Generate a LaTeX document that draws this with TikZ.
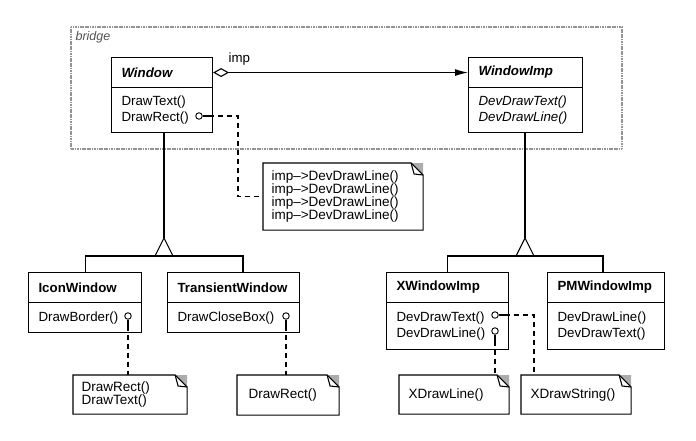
\documentclass[tikz,border=0pt]{standalone}
\usepackage{fontspec}
\setmainfont{Liberation Sans}
\usetikzlibrary{arrows.meta,calc}
\newcommand\notefold[1]{%
  \fill[gray!65] ([xshift=-12pt]#1.north east) -- (#1.north east) -- ([yshift=-12pt]#1.north east) -- cycle;
  \draw (#1.north west) -- ([xshift=-12pt]#1.north east) -- ([yshift=-12pt]#1.north east) -- (#1.south east) -- (#1.south west) -- cycle;
  \draw ([xshift=-12pt]#1.north east) -- ([xshift=-9pt,yshift=-11pt]#1.north east) -- ([yshift=-12pt]#1.north east);
}
\begin{document}
\begin{tikzpicture}[x=1pt,y=-1pt,line width=1.1pt,
  every node/.style={inner sep=0pt},
  basefont/.style={font=\fontsize{13.3}{16.5}\selectfont},
  ctitle/.style={draw,anchor=north west,align=left,inner xsep=10pt,font=\fontsize{13.3}{16.5}\selectfont\bfseries},
  cmeth/.style={basefont,draw,anchor=north west,align=left,inner xsep=10pt},
  notebox/.style={anchor=north west,align=left,inner xsep=8pt,font=\fontsize{13.5}{12.8}\selectfont},
  pin/.style={circle,draw,minimum size=6.5pt,inner sep=0pt,line width=0.9pt},
  dashedline/.style={dash pattern=on 5pt off 4pt,line width=1.1pt},
  frame/.style={draw=gray!85,line width=2.2pt,dash pattern=on 1.2pt off 0.5pt},
]
\useasboundingbox (0,0) rectangle (696,440);

% bridge frame
\draw[frame] (71,27) rectangle (622,149);
\node[anchor=west,font=\fontsize{12.5}{14}\selectfont\itshape,text=gray!65!black] (bridgelbl) at (75,37) {bridge};

% Window
\node[ctitle,text width=81pt,minimum height=30pt] (win) at (111,57) {\itshape Window};
\node[cmeth,text width=81pt,minimum height=45pt] (winm) at (111,87) {DrawText()\\DrawRect()};

% WindowImp
\node[ctitle,text width=94pt,minimum height=30pt] (imp) at (468,57) {\itshape WindowImp};
\node[cmeth,text width=94pt,minimum height=45pt,font=\fontsize{13.3}{16.5}\selectfont\itshape] (impm) at (468,87) {DevDrawText()\\DevDrawLine()};

% association
\draw[{Diamond[open,length=16pt,width=9pt]}-{Latex[length=13pt,width=7pt]}] (win.east) -- (imp.west);
\node[basefont,anchor=south west] (implbl) at (228,66) {imp};

% IconWindow
\node[ctitle,text width=93pt,minimum height=30pt] (icon) at (28,272) {IconWindow};
\node[cmeth,text width=93pt,minimum height=30pt] (iconm) at (28,302) {DrawBorder()};

% TransientWindow
\node[ctitle,text width=112pt,minimum height=30pt] (trans) at (167,272) {TransientWindow};
\node[cmeth,text width=112pt,minimum height=30pt] (transm) at (167,302) {DrawCloseBox()};

% XWindowImp
\node[ctitle,text width=102pt,minimum height=30pt] (xwin) at (386,272) {XWindowImp};
\node[cmeth,text width=102pt,minimum height=47pt] (xwinm) at (386,302) {DevDrawText()\\DevDrawLine()};

% PMWindowImp
\node[ctitle,text width=97pt,minimum height=30pt] (pmwin) at (547,272) {PMWindowImp};
\node[cmeth,text width=97pt,minimum height=47pt] (pmwinm) at (547,302) {DevDrawLine()\\DevDrawText()};

% inheritance Window
\coordinate (t1) at (164,238);
\draw (winm.south -| t1) -- (t1);
\draw[fill=white] (t1) -- ++(9,18) -- ++(-18,0) -- cycle;
\coordinate (b1) at (164,256);
\coordinate (transtop) at (243,272);
\draw (icon.north) -- (icon.north |- b1) -- (transtop |- b1) -- (transtop);

% inheritance WindowImp
\coordinate (t2) at (525,238);
\draw (impm.south -| t2) -- (t2);
\draw[fill=white] (t2) -- ++(9,18) -- ++(-18,0) -- cycle;
\coordinate (b2) at (525,256);
\coordinate (pmtop) at (603,272);
\draw (xwin.north) -- (xwin.north |- b2) -- (pmtop |- b2) -- (pmtop);

% notes
\node[notebox,text width=143pt,minimum height=66pt] (note1) at (263,163) {imp--{>}DevDrawLine()\\imp--{>}DevDrawLine()\\imp--{>}DevDrawLine()\\imp--{>}DevDrawLine()};
\notefold{note1}
\node[notebox,text width=97pt,minimum height=38pt] (note2) at (73,375) {DrawRect()\\DrawText()};
\notefold{note2}
\node[notebox,inner xsep=11pt,text width=79pt,minimum height=39pt] (note3) at (237,375) {DrawRect()};
\notefold{note3}
\node[notebox,inner xsep=9pt,text width=91pt,minimum height=38pt] (note4) at (399,375) {XDrawLine()};
\notefold{note4}
\node[notebox,inner xsep=9pt,text width=91pt,minimum height=38pt] (note5) at (521,375) {XDrawString()};
\notefold{note5}

% pins and dashed links
\node[pin] (p1) at (199,116) {};
\draw (p1.east) -- ++(6,0) coordinate (p1e);
\draw[dashedline] (p1e) -| ($(note1.west)+(-25,0)$) -- (note1.west);

\node[pin] (p2) at (128,316) {};
\draw (p2.south) -- ++(0,6) coordinate (p2e);
\draw[dashedline] (p2e) -- (p2e |- note2.north);

\node[pin] (p3) at (286,316) {};
\draw (p3.south) -- ++(0,6) coordinate (p3e);
\draw[dashedline] (p3e) -- (p3e |- note3.north);

\node[pin] (p4) at (495,315) {};
\draw (p4.east) -- ++(6,0) coordinate (p4e);
\draw[dashedline] (p4e) -| ($(note5.north west)+(13,0)$);

\node[pin] (p5) at (495,331) {};
\draw (p5.south) -- ++(0,6) coordinate (p5e);
\draw[dashedline] (p5e) -- (p5e |- note4.north);
\end{tikzpicture}
\end{document}
